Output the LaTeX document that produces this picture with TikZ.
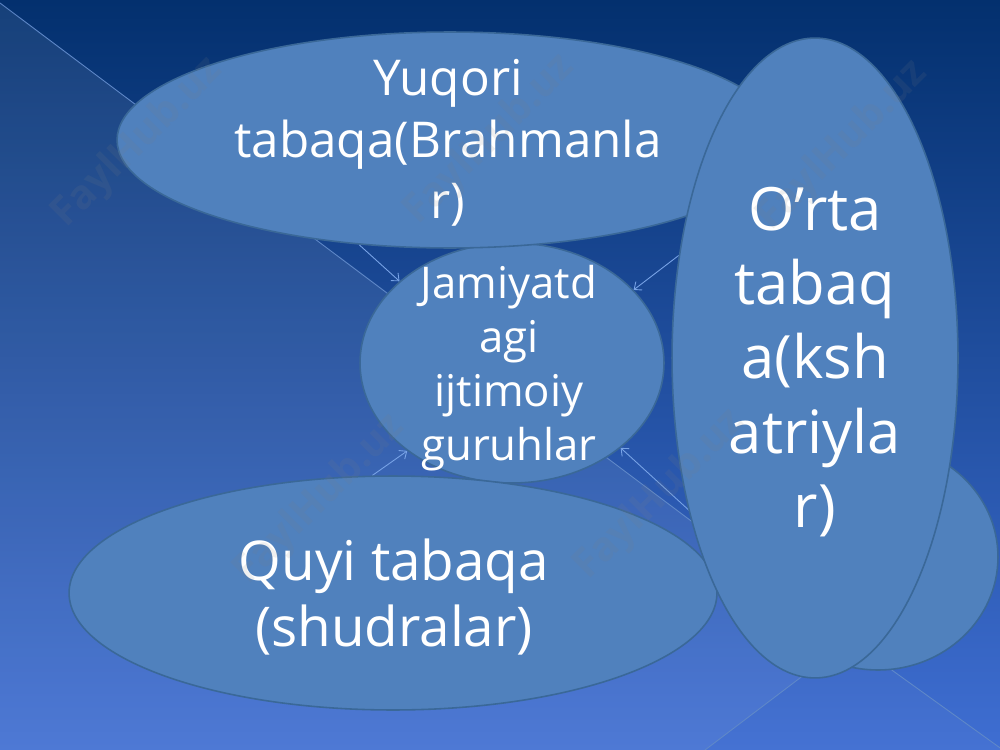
\documentclass[tikz,border=0pt]{standalone}
\usepackage{fontspec}
\setmainfont{Open Sans}
\usetikzlibrary{shapes.geometric,arrows.meta}
\definecolor{bgtop}{HTML}{03306E}
\definecolor{bgmid}{HTML}{0F4190}
\definecolor{bgbot}{HTML}{3F6ED2}
\definecolor{shapefill}{HTML}{5081BD}
\definecolor{shapeborder}{HTML}{3A6898}
\definecolor{connline}{HTML}{78A3E6}
\definecolor{bgline}{HTML}{5F88C8}
\pgfdeclarelayer{back}
\pgfdeclarelayer{mid}
\pgfsetlayers{back,mid,main}
\tikzset{
  ell/.style={ellipse, draw=shapeborder, fill=shapefill, line width=0.9pt, inner sep=0pt},
  lbl/.style={text=white, align=center, inner sep=0pt},
  conn/.style={draw=connline, line width=0.5pt, -{Straight Barb[length=3.5pt,width=6pt]}},
  wmark/.style={text=gray, opacity=0.12, rotate=45, font=\bfseries\fontsize{22.9pt}{26pt}\selectfont}
}
\begin{document}
\begin{tikzpicture}[x=0.02cm,y=-0.02cm]
\useasboundingbox (0,0) rectangle (1000,750);
% background
\begin{pgfonlayer}{back}
\shade[top color=bgtop, middle color=bgmid, bottom color=bgbot] (0,0) rectangle (1000,750);
\fill[white, opacity=0.08] (0,3) -- (850,640) -- (705,750) -- (0,750) -- cycle;
\fill[white, opacity=0.03] (705,750) -- (850,640) -- (1003,750) -- cycle;
\draw[bgline, line width=0.5pt] (0,3) -- (850,640);
\draw[bgline, line width=0.5pt] (705,750) -- (850,640) -- (1003,750);
\end{pgfonlayer}
% shapes
\node[ell, minimum width=6.08cm, minimum height=4.8cm] (cen) at (512,363) {};
\node[ell, minimum width=13.32cm, minimum height=4.32cm] (yuq) at (450,140) {};
\node[ell, minimum width=12.96cm, minimum height=4.68cm] (quyi) at (393,593) {};
\node[ell, minimum width=4.8cm, minimum height=4.52cm] (fourth) at (878,557) {};
\node[ell, minimum width=5.72cm, minimum height=12.8cm] (orta) at (815,358) {};
% connectors (behind shapes)
\begin{pgfonlayer}{mid}
\draw[conn] (yuq.229.5) -- (cen.144);
\draw[conn] (orta.143.5) -- (cen.31);
\draw[conn] (quyi.100.4) -- (cen.220);
\draw[conn] (fourth.188) -- (cen.322);
\end{pgfonlayer}
% labels
\node[lbl, font=\fontsize{28.1pt}{35.1pt}\selectfont] (yuqT) at (448,143) {Yuqori\\tabaqa(Brahmanla\\r)};
\node[lbl, font=\fontsize{24.9pt}{30.8pt}\selectfont] (cenT) at (509,368) {Jamiyatd\\agi\\ijtimoiy\\guruhlar};
\node[lbl, font=\fontsize{34pt}{42.2pt}\selectfont] (ortaT) at (815,362) {O’rta\\tabaq\\a(ksh\\atriyla\\r)};
\node[lbl, font=\fontsize{31.2pt}{38pt}\selectfont] (quyiT) at (394,597) {Quyi tabaqa\\(shudralar)};
% watermarks
\node[wmark] (w1) at (138,143) {FaylHub.uz};
\node[wmark] (w2) at (490,140) {FaylHub.uz};
\node[wmark] (w3) at (843,146) {FaylHub.uz};
\node[wmark] (w4) at (320,500) {FaylHub.uz};
\node[wmark] (w5) at (660,495) {FaylHub.uz};
\end{tikzpicture}
\end{document}
